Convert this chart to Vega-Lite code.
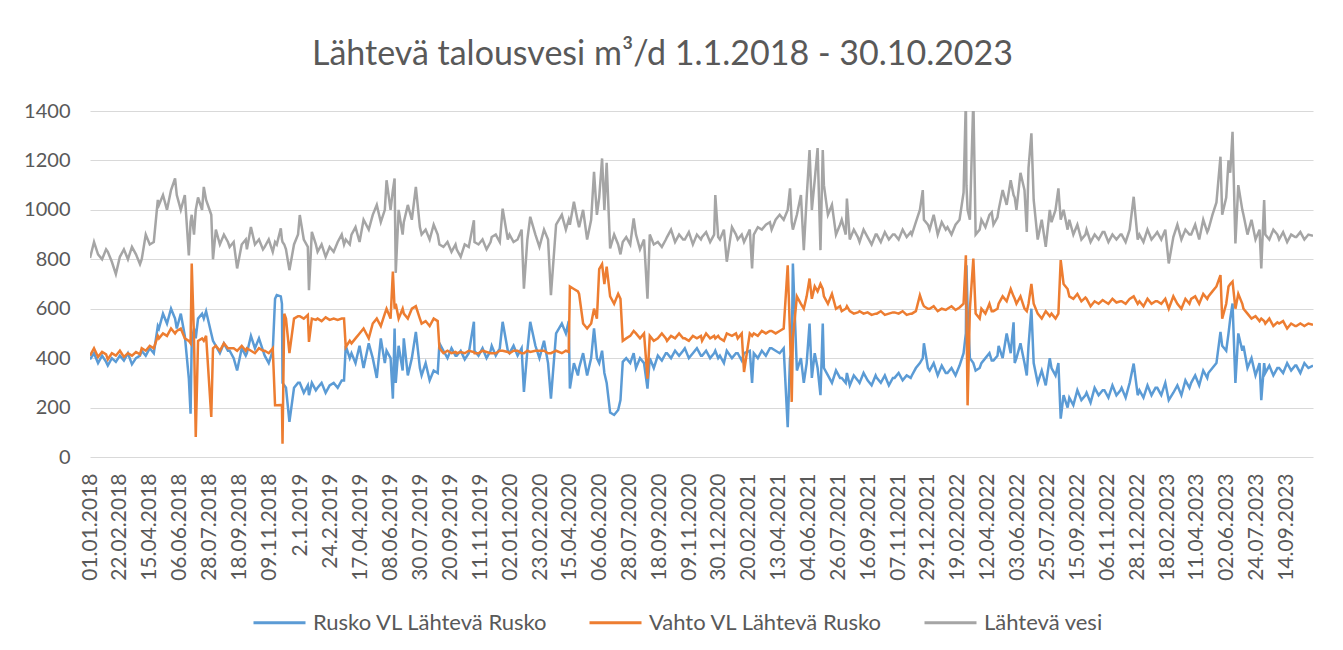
{
"$schema":"https://vega.github.io/schema/vega-lite/v6.json",
"width":1223,"height":346,
"autosize":"none",
"padding":{"left":90,"top":111,"right":30,"bottom":193},
"background":"white",
"config":{"view":{"stroke":null}},
"title":{"text":"Lähtevä talousvesi m³/d 1.1.2018 - 30.10.2023","anchor":"middle","frame":"group","dx":-39,"dy":38,"offset":40,"baseline":"alphabetic","fontSize":34,"font":"Lato","fontWeight":"normal","color":"#595959"},
"data":{"values":[
{"d":"2018-01-01","R":395,"V":410,"L":805},{"d":"2018-01-08","R":420,"V":440,"L":870},{"d":"2018-01-15","R":380,"V":405,"L":820},{"d":"2018-01-22","R":410,"V":425,"L":800},{"d":"2018-01-29","R":385,"V":415,"L":840},
{"d":"2018-02-01","R":370,"V":395,"L":830},{"d":"2018-02-08","R":400,"V":420,"L":790},{"d":"2018-02-15","R":385,"V":410,"L":740},{"d":"2018-02-22","R":410,"V":430,"L":810},
{"d":"2018-03-01","R":390,"V":405,"L":840},{"d":"2018-03-08","R":420,"V":420,"L":800},{"d":"2018-03-15","R":375,"V":410,"L":850},{"d":"2018-03-22","R":400,"V":425,"L":820},{"d":"2018-03-29","R":410,"V":415,"L":780},
{"d":"2018-04-01","R":430,"V":440,"L":800},{"d":"2018-04-08","R":410,"V":430,"L":900},{"d":"2018-04-15","R":440,"V":450,"L":860},{"d":"2018-04-22","R":420,"V":440,"L":870},{"d":"2018-04-29","R":530,"V":490,"L":1040},
{"d":"2018-05-01","R":520,"V":480,"L":1020},{"d":"2018-05-08","R":580,"V":500,"L":1060},{"d":"2018-05-15","R":540,"V":490,"L":1000},{"d":"2018-05-22","R":600,"V":520,"L":1080},{"d":"2018-05-29","R":560,"V":500,"L":1127},
{"d":"2018-06-01","R":520,"V":510,"L":1060},{"d":"2018-06-08","R":580,"V":520,"L":1000},{"d":"2018-06-15","R":490,"V":480,"L":1060},{"d":"2018-06-22","R":317,"V":470,"L":816},{"d":"2018-06-25","R":175,"V":460,"L":950},{"d":"2018-06-27","R":470,"V":783,"L":980},
{"d":"2018-07-01","R":520,"V":480,"L":900},{"d":"2018-07-04","R":480,"V":81,"L":1000},{"d":"2018-07-08","R":560,"V":470,"L":1050},{"d":"2018-07-15","R":580,"V":480,"L":1000},{"d":"2018-07-18","R":560,"V":470,"L":1093},{"d":"2018-07-22","R":590,"V":490,"L":1040},{"d":"2018-07-31","R":500,"V":162,"L":980},
{"d":"2018-08-03","R":470,"V":440,"L":800},{"d":"2018-08-08","R":450,"V":450,"L":920},{"d":"2018-08-15","R":420,"V":430,"L":860},{"d":"2018-08-22","R":460,"V":460,"L":900},{"d":"2018-08-29","R":430,"V":440,"L":870},
{"d":"2018-09-01","R":430,"V":440,"L":850},{"d":"2018-09-08","R":400,"V":440,"L":870},{"d":"2018-09-14","R":350,"V":430,"L":763},{"d":"2018-09-22","R":440,"V":450,"L":860},{"d":"2018-09-29","R":410,"V":430,"L":880},
{"d":"2018-10-01","R":420,"V":440,"L":840},{"d":"2018-10-08","R":490,"V":430,"L":931},{"d":"2018-10-15","R":440,"V":420,"L":860},{"d":"2018-10-22","R":480,"V":440,"L":880},{"d":"2018-10-29","R":430,"V":430,"L":840},
{"d":"2018-11-01","R":410,"V":430,"L":850},{"d":"2018-11-08","R":380,"V":420,"L":880},{"d":"2018-11-15","R":430,"V":440,"L":830},{"d":"2018-11-19","R":640,"V":209,"L":870},{"d":"2018-11-22","R":655,"V":209,"L":860},{"d":"2018-11-29","R":650,"V":210,"L":925},
{"d":"2018-12-01","R":620,"V":210,"L":880},{"d":"2018-12-02","R":300,"V":54,"L":870},{"d":"2018-12-05","R":290,"V":580,"L":860},{"d":"2018-12-08","R":280,"V":560,"L":840},{"d":"2018-12-14","R":142,"V":420,"L":756},{"d":"2018-12-22","R":280,"V":560,"L":860},{"d":"2018-12-29","R":300,"V":570,"L":900},
{"d":"2019-01-01","R":300,"V":570,"L":979},{"d":"2019-01-08","R":260,"V":560,"L":880},{"d":"2019-01-15","R":290,"V":575,"L":850},{"d":"2019-01-17","R":250,"V":466,"L":675},{"d":"2019-01-22","R":300,"V":560,"L":911},{"d":"2019-01-29","R":270,"V":555,"L":860},
{"d":"2019-02-01","R":280,"V":560,"L":830},{"d":"2019-02-08","R":300,"V":550,"L":860},{"d":"2019-02-15","R":260,"V":565,"L":810},{"d":"2019-02-22","R":290,"V":555,"L":850},
{"d":"2019-03-01","R":300,"V":560,"L":830},{"d":"2019-03-08","R":280,"V":555,"L":870},{"d":"2019-03-15","R":310,"V":560,"L":900},{"d":"2019-03-19","R":310,"V":560,"L":860},{"d":"2019-03-22","R":450,"V":445,"L":880},{"d":"2019-03-29","R":400,"V":470,"L":860},
{"d":"2019-04-01","R":420,"V":460,"L":900},{"d":"2019-04-08","R":380,"V":480,"L":930},{"d":"2019-04-15","R":450,"V":500,"L":870},{"d":"2019-04-22","R":360,"V":520,"L":960},
{"d":"2019-05-01","R":460,"V":480,"L":920},{"d":"2019-05-08","R":400,"V":540,"L":980},{"d":"2019-05-15","R":320,"V":560,"L":1020},{"d":"2019-05-22","R":480,"V":530,"L":950},{"d":"2019-05-29","R":380,"V":580,"L":1000},
{"d":"2019-06-01","R":430,"V":600,"L":1120},{"d":"2019-06-08","R":400,"V":560,"L":1000},{"d":"2019-06-12","R":236,"V":750,"L":1080},{"d":"2019-06-15","R":520,"V":600,"L":1127},{"d":"2019-06-17","R":300,"V":620,"L":745},{"d":"2019-06-22","R":450,"V":560,"L":1000},{"d":"2019-06-29","R":350,"V":600,"L":900},
{"d":"2019-07-01","R":480,"V":580,"L":950},{"d":"2019-07-08","R":330,"V":560,"L":1020},{"d":"2019-07-15","R":400,"V":600,"L":960},{"d":"2019-07-22","R":506,"V":610,"L":1093},{"d":"2019-07-29","R":360,"V":560,"L":930},
{"d":"2019-08-01","R":330,"V":540,"L":900},{"d":"2019-08-08","R":380,"V":550,"L":920},{"d":"2019-08-15","R":310,"V":530,"L":880},{"d":"2019-08-22","R":350,"V":560,"L":940},{"d":"2019-08-29","R":340,"V":550,"L":900},
{"d":"2019-09-01","R":460,"V":440,"L":860},{"d":"2019-09-08","R":430,"V":420,"L":850},{"d":"2019-09-15","R":400,"V":430,"L":870},{"d":"2019-09-22","R":440,"V":420,"L":830},{"d":"2019-09-29","R":410,"V":425,"L":860},
{"d":"2019-10-01","R":410,"V":420,"L":840},{"d":"2019-10-08","R":430,"V":425,"L":810},{"d":"2019-10-15","R":395,"V":420,"L":860},{"d":"2019-10-22","R":420,"V":430,"L":850},{"d":"2019-10-31","R":547,"V":425,"L":958},
{"d":"2019-11-01","R":430,"V":420,"L":870},{"d":"2019-11-08","R":410,"V":420,"L":860},{"d":"2019-11-15","R":440,"V":430,"L":880},{"d":"2019-11-22","R":400,"V":425,"L":840},{"d":"2019-11-29","R":430,"V":420,"L":870},
{"d":"2019-12-01","R":450,"V":420,"L":890},{"d":"2019-12-08","R":410,"V":420,"L":900},{"d":"2019-12-15","R":440,"V":430,"L":870},{"d":"2019-12-20","R":547,"V":430,"L":1005},{"d":"2019-12-29","R":430,"V":425,"L":880},
{"d":"2020-01-01","R":420,"V":420,"L":900},{"d":"2020-01-08","R":450,"V":430,"L":870},{"d":"2020-01-15","R":410,"V":430,"L":880},{"d":"2020-01-22","R":440,"V":420,"L":920},{"d":"2020-01-26","R":263,"V":420,"L":681},
{"d":"2020-02-01","R":430,"V":430,"L":880},{"d":"2020-02-06","R":547,"V":425,"L":972},{"d":"2020-02-15","R":450,"V":430,"L":900},{"d":"2020-02-22","R":400,"V":430,"L":850},
{"d":"2020-03-01","R":470,"V":430,"L":920},{"d":"2020-03-08","R":380,"V":420,"L":880},{"d":"2020-03-13","R":236,"V":420,"L":655},{"d":"2020-03-22","R":500,"V":430,"L":940},
{"d":"2020-04-01","R":540,"V":420,"L":980},{"d":"2020-04-08","R":500,"V":430,"L":920},{"d":"2020-04-13","R":550,"V":425,"L":960},{"d":"2020-04-15","R":277,"V":690,"L":940},{"d":"2020-04-22","R":380,"V":680,"L":1033},{"d":"2020-04-29","R":330,"V":670,"L":950},
{"d":"2020-05-01","R":360,"V":660,"L":930},{"d":"2020-05-08","R":420,"V":540,"L":1000},{"d":"2020-05-15","R":330,"V":520,"L":880},{"d":"2020-05-22","R":400,"V":540,"L":960},{"d":"2020-05-27","R":520,"V":600,"L":1154},
{"d":"2020-06-01","R":400,"V":560,"L":980},{"d":"2020-06-05","R":380,"V":760,"L":1050},{"d":"2020-06-10","R":430,"V":780,"L":1208},{"d":"2020-06-14","R":340,"V":700,"L":1000},{"d":"2020-06-18","R":300,"V":770,"L":1190},{"d":"2020-06-24","R":180,"V":650,"L":844},
{"d":"2020-07-01","R":170,"V":620,"L":900},{"d":"2020-07-08","R":190,"V":660,"L":860},{"d":"2020-07-12","R":230,"V":640,"L":820},{"d":"2020-07-16","R":385,"V":470,"L":870},{"d":"2020-07-22","R":400,"V":480,"L":890},{"d":"2020-07-29","R":380,"V":490,"L":860},
{"d":"2020-08-04","R":420,"V":510,"L":965},{"d":"2020-08-08","R":360,"V":500,"L":900},{"d":"2020-08-15","R":400,"V":480,"L":840},{"d":"2020-08-22","R":380,"V":500,"L":880},{"d":"2020-08-28","R":277,"V":317,"L":641},
{"d":"2020-09-01","R":400,"V":490,"L":900},{"d":"2020-09-08","R":360,"V":470,"L":860},{"d":"2020-09-15","R":410,"V":480,"L":870},{"d":"2020-09-22","R":390,"V":500,"L":850},{"d":"2020-09-29","R":420,"V":480,"L":880},
{"d":"2020-10-01","R":420,"V":470,"L":890},{"d":"2020-10-08","R":400,"V":490,"L":920},{"d":"2020-10-15","R":430,"V":480,"L":870},{"d":"2020-10-22","R":410,"V":500,"L":900},{"d":"2020-10-29","R":430,"V":480,"L":880},
{"d":"2020-11-01","R":440,"V":480,"L":880},{"d":"2020-11-08","R":400,"V":470,"L":910},{"d":"2020-11-15","R":420,"V":490,"L":860},{"d":"2020-11-22","R":440,"V":480,"L":900},{"d":"2020-11-29","R":410,"V":490,"L":880},
{"d":"2020-12-01","R":410,"V":470,"L":890},{"d":"2020-12-08","R":430,"V":500,"L":910},{"d":"2020-12-15","R":400,"V":480,"L":870},{"d":"2020-12-22","R":420,"V":490,"L":900},{"d":"2020-12-24","R":430,"V":480,"L":1060},{"d":"2020-12-29","R":400,"V":490,"L":890},
{"d":"2021-01-01","R":410,"V":480,"L":880},{"d":"2021-01-08","R":380,"V":470,"L":920},{"d":"2021-01-13","R":430,"V":500,"L":790},{"d":"2021-01-22","R":400,"V":490,"L":930},{"d":"2021-01-29","R":420,"V":500,"L":900},
{"d":"2021-02-01","R":420,"V":480,"L":880},{"d":"2021-02-08","R":390,"V":500,"L":900},{"d":"2021-02-12","R":420,"V":344,"L":870},{"d":"2021-02-22","R":430,"V":500,"L":920},{"d":"2021-02-26","R":300,"V":490,"L":763},
{"d":"2021-03-01","R":420,"V":500,"L":900},{"d":"2021-03-08","R":400,"V":490,"L":930},{"d":"2021-03-15","R":430,"V":510,"L":920},{"d":"2021-03-22","R":410,"V":500,"L":940},{"d":"2021-03-29","R":440,"V":510,"L":950},
{"d":"2021-04-01","R":440,"V":510,"L":920},{"d":"2021-04-08","R":430,"V":500,"L":960},{"d":"2021-04-15","R":420,"V":510,"L":980},{"d":"2021-04-22","R":440,"V":520,"L":960},{"d":"2021-04-29","R":121,"V":776,"L":1000},
{"d":"2021-05-03","R":400,"V":500,"L":1087},{"d":"2021-05-06","R":420,"V":223,"L":950},{"d":"2021-05-08","R":783,"V":480,"L":920},{"d":"2021-05-15","R":350,"V":650,"L":980},{"d":"2021-05-22","R":400,"V":620,"L":1060},{"d":"2021-05-27","R":300,"V":600,"L":837},
{"d":"2021-06-01","R":380,"V":650,"L":1050},{"d":"2021-06-06","R":540,"V":722,"L":1242},{"d":"2021-06-10","R":320,"V":640,"L":1000},{"d":"2021-06-15","R":420,"V":690,"L":1120},{"d":"2021-06-20","R":360,"V":670,"L":1250},{"d":"2021-06-25","R":250,"V":700,"L":837},{"d":"2021-06-29","R":540,"V":680,"L":1242},
{"d":"2021-07-01","R":360,"V":650,"L":1100},{"d":"2021-07-08","R":330,"V":620,"L":980},{"d":"2021-07-15","R":300,"V":660,"L":1020},{"d":"2021-07-22","R":350,"V":600,"L":900},{"d":"2021-07-29","R":320,"V":610,"L":940},
{"d":"2021-08-01","R":320,"V":590,"L":960},{"d":"2021-08-08","R":300,"V":600,"L":900},{"d":"2021-08-10","R":340,"V":610,"L":1046},{"d":"2021-08-15","R":290,"V":590,"L":880},{"d":"2021-08-22","R":330,"V":580,"L":920},{"d":"2021-08-29","R":310,"V":585,"L":890},
{"d":"2021-09-01","R":300,"V":590,"L":870},{"d":"2021-09-08","R":340,"V":580,"L":920},{"d":"2021-09-15","R":310,"V":585,"L":890},{"d":"2021-09-22","R":290,"V":575,"L":860},{"d":"2021-09-29","R":330,"V":580,"L":900},
{"d":"2021-10-01","R":320,"V":580,"L":900},{"d":"2021-10-08","R":300,"V":590,"L":870},{"d":"2021-10-15","R":330,"V":575,"L":910},{"d":"2021-10-22","R":290,"V":580,"L":880},{"d":"2021-10-29","R":320,"V":585,"L":900},
{"d":"2021-11-01","R":320,"V":585,"L":900},{"d":"2021-11-08","R":340,"V":580,"L":880},{"d":"2021-11-15","R":310,"V":590,"L":920},{"d":"2021-11-22","R":330,"V":575,"L":890},{"d":"2021-11-29","R":320,"V":580,"L":910},
{"d":"2021-12-01","R":330,"V":580,"L":900},{"d":"2021-12-08","R":360,"V":590,"L":950},{"d":"2021-12-15","R":380,"V":655,"L":1000},{"d":"2021-12-20","R":400,"V":620,"L":1080},{"d":"2021-12-22","R":460,"V":610,"L":960},{"d":"2021-12-29","R":360,"V":600,"L":940},
{"d":"2022-01-01","R":350,"V":600,"L":920},{"d":"2022-01-08","R":380,"V":610,"L":980},{"d":"2022-01-15","R":330,"V":590,"L":900},{"d":"2022-01-22","R":370,"V":600,"L":950},{"d":"2022-01-29","R":340,"V":595,"L":920},
{"d":"2022-02-01","R":340,"V":600,"L":930},{"d":"2022-02-08","R":360,"V":610,"L":900},{"d":"2022-02-15","R":330,"V":595,"L":940},{"d":"2022-02-22","R":370,"V":605,"L":960},
{"d":"2022-03-01","R":420,"V":620,"L":1070},{"d":"2022-03-05","R":500,"V":816,"L":1450},{"d":"2022-03-06","R":776,"V":600,"L":1100},{"d":"2022-03-08","R":600,"V":209,"L":1000},{"d":"2022-03-12","R":400,"V":600,"L":960},{"d":"2022-03-18","R":380,"V":803,"L":1450},{"d":"2022-03-22","R":350,"V":580,"L":900},{"d":"2022-03-29","R":360,"V":560,"L":920},
{"d":"2022-04-01","R":380,"V":600,"L":960},{"d":"2022-04-08","R":400,"V":580,"L":930},{"d":"2022-04-15","R":420,"V":620,"L":980},{"d":"2022-04-19","R":390,"V":590,"L":990},{"d":"2022-04-22","R":390,"V":590,"L":940},{"d":"2022-04-29","R":410,"V":600,"L":970},
{"d":"2022-05-01","R":450,"V":620,"L":1000},{"d":"2022-05-08","R":400,"V":650,"L":1080},{"d":"2022-05-15","R":500,"V":630,"L":1020},{"d":"2022-05-22","R":420,"V":680,"L":1120},{"d":"2022-05-27","R":545,"V":650,"L":1060},{"d":"2022-05-29","R":380,"V":640,"L":1050},
{"d":"2022-06-01","R":400,"V":620,"L":1000},{"d":"2022-06-08","R":460,"V":650,"L":1150},{"d":"2022-06-15","R":380,"V":600,"L":1080},{"d":"2022-06-19","R":330,"V":590,"L":911},{"d":"2022-06-22","R":450,"V":620,"L":1170},{"d":"2022-06-27","R":600,"V":700,"L":1310},
{"d":"2022-07-01","R":380,"V":620,"L":1040},{"d":"2022-07-08","R":300,"V":580,"L":880},{"d":"2022-07-15","R":350,"V":560,"L":960},{"d":"2022-07-22","R":290,"V":590,"L":850},{"d":"2022-07-29","R":400,"V":570,"L":1000},
{"d":"2022-08-01","R":360,"V":580,"L":950},{"d":"2022-08-08","R":330,"V":560,"L":1000},{"d":"2022-08-13","R":380,"V":580,"L":1087},{"d":"2022-08-17","R":155,"V":797,"L":960},{"d":"2022-08-22","R":250,"V":700,"L":1000},{"d":"2022-08-29","R":200,"V":680,"L":920},
{"d":"2022-09-01","R":240,"V":650,"L":960},{"d":"2022-09-08","R":210,"V":640,"L":900},{"d":"2022-09-15","R":270,"V":660,"L":940},{"d":"2022-09-22","R":230,"V":630,"L":880},{"d":"2022-09-29","R":250,"V":645,"L":900},
{"d":"2022-10-01","R":260,"V":640,"L":920},{"d":"2022-10-08","R":220,"V":610,"L":870},{"d":"2022-10-15","R":280,"V":630,"L":900},{"d":"2022-10-22","R":250,"V":620,"L":880},{"d":"2022-10-29","R":270,"V":635,"L":910},
{"d":"2022-11-01","R":270,"V":630,"L":910},{"d":"2022-11-08","R":240,"V":620,"L":870},{"d":"2022-11-15","R":290,"V":640,"L":900},{"d":"2022-11-22","R":250,"V":625,"L":880},{"d":"2022-11-29","R":270,"V":630,"L":900},
{"d":"2022-12-01","R":280,"V":630,"L":900},{"d":"2022-12-08","R":240,"V":620,"L":870},{"d":"2022-12-15","R":300,"V":640,"L":920},{"d":"2022-12-22","R":378,"V":650,"L":1053},{"d":"2022-12-29","R":250,"V":620,"L":880},
{"d":"2023-01-01","R":270,"V":630,"L":900},{"d":"2023-01-08","R":240,"V":610,"L":870},{"d":"2023-01-15","R":290,"V":640,"L":920},{"d":"2023-01-22","R":250,"V":620,"L":880},{"d":"2023-01-29","R":280,"V":630,"L":900},
{"d":"2023-02-01","R":280,"V":630,"L":910},{"d":"2023-02-08","R":250,"V":620,"L":880},{"d":"2023-02-15","R":300,"V":640,"L":920},{"d":"2023-02-21","R":230,"V":600,"L":783},
{"d":"2023-03-01","R":260,"V":650,"L":890},{"d":"2023-03-08","R":290,"V":620,"L":940},{"d":"2023-03-15","R":250,"V":600,"L":880},{"d":"2023-03-22","R":310,"V":640,"L":920},{"d":"2023-03-29","R":280,"V":620,"L":900},
{"d":"2023-04-01","R":300,"V":640,"L":900},{"d":"2023-04-08","R":330,"V":650,"L":940},{"d":"2023-04-15","R":290,"V":620,"L":880},{"d":"2023-04-22","R":350,"V":660,"L":960},{"d":"2023-04-29","R":320,"V":640,"L":910},
{"d":"2023-05-01","R":340,"V":650,"L":920},{"d":"2023-05-08","R":360,"V":670,"L":980},{"d":"2023-05-15","R":380,"V":690,"L":1030},{"d":"2023-05-22","R":506,"V":736,"L":1215},{"d":"2023-05-25","R":450,"V":560,"L":980},
{"d":"2023-06-01","R":430,"V":620,"L":1050},{"d":"2023-06-05","R":500,"V":690,"L":1200},{"d":"2023-06-08","R":560,"V":700,"L":1150},{"d":"2023-06-12","R":621,"V":710,"L":1316},{"d":"2023-06-17","R":300,"V":600,"L":864},{"d":"2023-06-22","R":500,"V":660,"L":1100},{"d":"2023-06-29","R":430,"V":620,"L":1000},
{"d":"2023-07-01","R":450,"V":600,"L":980},{"d":"2023-07-08","R":360,"V":580,"L":900},{"d":"2023-07-15","R":400,"V":560,"L":960},{"d":"2023-07-22","R":330,"V":570,"L":880},{"d":"2023-07-29","R":380,"V":550,"L":920},
{"d":"2023-08-01","R":230,"V":560,"L":763},{"d":"2023-08-06","R":380,"V":550,"L":1040},{"d":"2023-08-08","R":340,"V":540,"L":900},{"d":"2023-08-15","R":370,"V":560,"L":880},{"d":"2023-08-22","R":330,"V":530,"L":920},{"d":"2023-08-29","R":360,"V":545,"L":900},
{"d":"2023-09-01","R":360,"V":540,"L":880},{"d":"2023-09-08","R":340,"V":550,"L":910},{"d":"2023-09-15","R":380,"V":520,"L":870},{"d":"2023-09-22","R":350,"V":540,"L":900},{"d":"2023-09-29","R":370,"V":530,"L":890},
{"d":"2023-10-01","R":370,"V":530,"L":890},{"d":"2023-10-08","R":340,"V":540,"L":910},{"d":"2023-10-15","R":380,"V":530,"L":880},{"d":"2023-10-22","R":360,"V":540,"L":900},{"d":"2023-10-30","R":370,"V":535,"L":895}
]},
"transform":[{"fold":["R","V","L"],"as":["k","value"]}],
"mark":{"type":"line","strokeWidth":2.5,"clip":true},
"encoding":{
"x":{"field":"d","type":"temporal",
"scale":{"type":"utc","domain":[{"year":2018,"month":1,"date":1,"utc":true},{"year":2023,"month":10,"date":30,"utc":true}]},
"axis":{"title":null,"grid":false,"domain":false,"ticks":false,"labelAngle":-90,"labelAlign":"right","labelBaseline":"middle","labelPadding":16,"labelFont":"Lato","labelFontSize":21,"labelColor":"#595959","labelOverlap":false,"labelFlush":false,"labelBound":false,
"values":[
{"year":2018,"month":1,"date":1,"utc":true},{"year":2018,"month":2,"date":22,"utc":true},{"year":2018,"month":4,"date":15,"utc":true},{"year":2018,"month":6,"date":6,"utc":true},{"year":2018,"month":7,"date":28,"utc":true},{"year":2018,"month":9,"date":18,"utc":true},{"year":2018,"month":11,"date":9,"utc":true},
{"year":2019,"month":1,"date":2,"utc":true},{"year":2019,"month":2,"date":24,"utc":true},{"year":2019,"month":4,"date":17,"utc":true},{"year":2019,"month":6,"date":8,"utc":true},{"year":2019,"month":7,"date":30,"utc":true},{"year":2019,"month":9,"date":20,"utc":true},{"year":2019,"month":11,"date":11,"utc":true},
{"year":2020,"month":1,"date":2,"utc":true},{"year":2020,"month":2,"date":23,"utc":true},{"year":2020,"month":4,"date":15,"utc":true},{"year":2020,"month":6,"date":6,"utc":true},{"year":2020,"month":7,"date":28,"utc":true},{"year":2020,"month":9,"date":18,"utc":true},{"year":2020,"month":11,"date":9,"utc":true},{"year":2020,"month":12,"date":30,"utc":true},
{"year":2021,"month":2,"date":20,"utc":true},{"year":2021,"month":4,"date":13,"utc":true},{"year":2021,"month":6,"date":4,"utc":true},{"year":2021,"month":7,"date":26,"utc":true},{"year":2021,"month":9,"date":16,"utc":true},{"year":2021,"month":11,"date":7,"utc":true},{"year":2021,"month":12,"date":29,"utc":true},
{"year":2022,"month":2,"date":19,"utc":true},{"year":2022,"month":4,"date":12,"utc":true},{"year":2022,"month":6,"date":3,"utc":true},{"year":2022,"month":7,"date":25,"utc":true},{"year":2022,"month":9,"date":15,"utc":true},{"year":2022,"month":11,"date":6,"utc":true},{"year":2022,"month":12,"date":28,"utc":true},
{"year":2023,"month":2,"date":18,"utc":true},{"year":2023,"month":4,"date":11,"utc":true},{"year":2023,"month":6,"date":2,"utc":true},{"year":2023,"month":7,"date":24,"utc":true},{"year":2023,"month":9,"date":14,"utc":true}],
"labelExpr":"utcFormat(datum.value,'%d.%m.%Y') == '02.01.2019' ? '2.1.2019' : (utcFormat(datum.value,'%d.%m.%Y') == '24.02.2019' ? '24.2.2019' : utcFormat(datum.value,'%d.%m.%Y'))"}},
"y":{"field":"value","type":"quantitative","scale":{"domain":[0,1400],"nice":false},
"axis":{"title":null,"values":[0,200,400,600,800,1000,1200,1400],"format":"d","domain":false,"ticks":false,"grid":true,"gridColor":"#d9d9d9","gridWidth":1.2,"labelPadding":20,"labelFont":"Lato","labelFontSize":20,"labelColor":"#595959"}},
"color":{"field":"k","type":"nominal","scale":{"domain":["R","V","L"],"range":["#5B9BD5","#ED7D31","#A5A5A5"]},
"legend":{"orient":"none","legendX":162,"legendY":484,"direction":"horizontal","title":null,"symbolType":"stroke","symbolSize":2704,"symbolStrokeWidth":3,"labelFont":"Lato","labelFontSize":22,"labelColor":"#595959","labelLimit":400,"columnPadding":35,"labelOffset":6,
"labelExpr":"datum.label == 'R' ? 'Rusko VL Lähtevä Rusko' : (datum.label == 'V' ? 'Vahto VL Lähtevä Rusko' : 'Lähtevä vesi')"}}
}
}
